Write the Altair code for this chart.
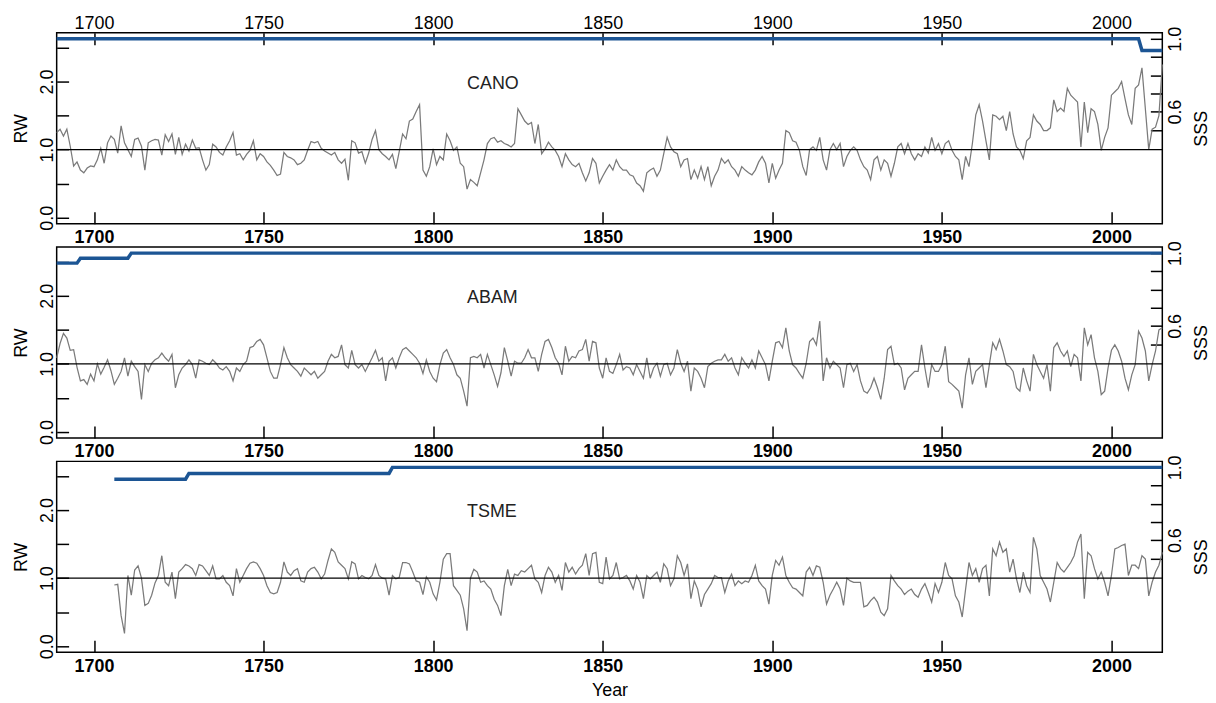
import altair as alt
import pandas as pd

FONT = "Liberation Sans"

# ---------------- data ----------------
cano_start = 1689
cano_rw = [
    1.25, 1.3, 1.2, 1.3, 1.05, 0.76, 0.82, 0.7, 0.66, 0.73,
    0.76, 0.75, 0.85, 1.02, 0.8, 1.1, 1.2, 1.15, 0.95, 1.35,
    1.1, 1.0, 0.9, 1.15, 1.17, 1.05, 0.7, 1.1, 1.13, 1.15,
    1.14, 0.92, 1.22, 1.12, 1.23, 0.93, 1.18, 0.93, 1.08, 0.98,
    1.14, 1.02, 1.03, 0.85, 0.7, 0.78, 1.08, 1.04, 0.96, 0.92,
    1.04, 1.13, 1.25, 0.92, 0.94, 0.85, 0.93, 0.99, 1.13, 0.85,
    0.94, 0.9, 0.82, 0.77, 0.7, 0.62, 0.64, 0.96, 0.9, 0.88,
    0.85, 0.78, 0.8, 0.85, 0.99, 1.12, 1.1, 1.12, 1.02, 0.98,
    0.95, 0.92, 0.96, 0.85, 0.8, 0.86, 0.55, 1.13, 1.1, 0.95,
    0.97, 0.8, 0.95, 1.15, 1.28, 1.0, 0.94, 0.9, 0.85, 0.93,
    0.72, 0.97, 1.23, 1.16, 1.42, 1.45, 1.56, 1.66, 0.7, 0.61,
    0.75, 1.01, 0.78, 0.9, 0.85, 1.23, 1.13, 0.99, 1.04, 0.8,
    0.75, 0.42, 0.56, 0.52, 0.47, 0.66, 0.85, 1.09, 1.16, 1.18,
    1.11, 1.13, 1.09, 1.07, 1.04, 1.09, 1.6, 1.51, 1.42, 1.37,
    1.4, 1.09, 1.37, 0.94, 1.01, 1.11, 1.04, 0.99, 0.9, 0.75,
    0.94, 0.85, 0.78, 0.75, 0.8, 0.66, 0.54, 0.66, 0.87, 0.8,
    0.51, 0.61, 0.7, 0.78, 0.7, 0.85, 0.75, 0.7, 0.7, 0.63,
    0.61, 0.51, 0.47, 0.39, 0.66, 0.7, 0.73, 0.61, 0.7, 0.94,
    1.18, 1.04, 0.97, 0.94, 0.75, 0.85, 0.87, 0.56, 0.7, 0.58,
    0.75, 0.56, 0.75, 0.47, 0.61, 0.7, 0.87, 0.8, 0.85, 0.75,
    0.7, 0.61, 0.75, 0.7, 0.66, 0.63, 0.7, 0.82, 0.9, 0.8,
    0.51, 0.8, 0.58, 0.7, 0.8, 1.28, 1.25, 1.13, 1.11, 0.99,
    0.75, 0.62, 1.0, 1.04, 0.99, 1.18, 0.85, 0.7, 1.0, 1.09,
    1.0, 1.09, 0.75, 0.9, 0.99, 1.04, 0.99, 0.85, 0.75, 0.7,
    0.56, 0.85, 0.9, 0.7, 0.85, 0.8, 0.61, 0.8, 1.04, 1.09,
    0.94, 1.09, 0.94, 0.85, 0.94, 0.9, 1.04, 0.95, 1.18, 0.99,
    1.09, 0.94, 1.09, 1.13, 0.99, 0.9, 0.85, 0.56, 0.9, 0.75,
    1.09, 1.51, 1.66, 1.42, 1.13, 0.85, 1.51, 1.49, 1.44, 1.49,
    1.28, 1.56, 1.23, 1.04, 0.99, 0.87, 1.13, 1.18, 1.51, 1.42,
    1.37, 1.28, 1.28, 1.32, 1.73, 1.56, 1.61, 1.56, 1.9, 1.8,
    1.75, 1.7, 1.04, 1.7, 1.25, 1.6, 1.56, 1.37, 0.99, 1.18,
    1.32, 1.8, 1.85, 1.9, 2.0, 1.75, 1.51, 1.37, 1.9, 1.95,
    2.2, 1.6, 1.0, 1.3, 1.33, 1.5, 2.25,
]

abam_start = 1689
abam_rw = [
    1.09, 1.3, 1.45, 1.38, 1.2, 1.21, 0.95, 0.75, 0.77, 0.7,
    0.85, 0.75, 1.0, 0.85, 0.95, 1.06, 0.9, 0.7, 0.79, 0.89,
    1.09, 0.82, 1.04, 0.96, 0.89, 0.48, 0.99, 0.89, 1.01, 1.06,
    1.09, 1.16, 1.09, 1.04, 1.14, 0.65, 0.84, 0.94, 0.99, 1.06,
    0.99, 0.79, 1.06, 1.04, 1.01, 0.99, 1.06, 1.01, 0.94, 0.91,
    0.96, 0.89, 0.75, 0.94, 0.89, 0.99, 1.04, 1.24, 1.26, 1.33,
    1.36, 1.28, 1.09, 0.89, 0.79, 0.79, 0.99, 1.24, 1.09, 0.99,
    0.94, 0.89, 0.82, 0.94, 0.89, 0.84, 0.89, 0.79, 0.84, 0.89,
    1.04, 1.14, 1.09, 1.11, 1.28, 0.99, 0.94, 1.2, 0.99, 0.94,
    0.99, 0.89, 0.99, 1.09, 1.2, 1.04, 1.09, 0.75, 1.04, 1.09,
    0.94, 1.09, 1.21, 1.24, 1.19, 1.14, 1.09, 1.01, 0.86, 1.06,
    0.89, 0.79, 0.74, 0.99, 1.16, 1.21, 1.09, 0.99, 0.84, 0.79,
    0.6, 0.38, 1.09, 1.11, 1.09, 1.14, 0.94, 1.14, 0.99, 0.84,
    0.67, 0.87, 1.24, 1.04, 0.82, 1.04, 1.01, 1.01, 1.09, 1.21,
    1.09, 1.09, 0.89, 1.14, 1.33, 1.36, 1.24, 1.09, 1.01, 0.84,
    1.26, 1.04, 1.11, 1.09, 1.19, 1.21, 1.36, 1.04, 1.33, 1.31,
    0.94, 0.79, 1.09, 0.89, 0.86, 0.99, 1.14, 0.91, 0.96, 0.94,
    0.84, 0.99, 0.89, 0.79, 1.09, 0.79, 0.94, 1.01, 0.82, 0.99,
    1.01, 0.84, 0.94, 1.21, 1.01, 0.89, 1.04, 0.6, 0.94, 0.89,
    0.79, 0.65, 0.96, 1.01, 1.04, 1.06, 1.06, 1.14, 1.04, 1.09,
    0.94, 0.84, 1.09, 1.01, 0.94, 1.06, 0.94, 1.19, 1.09, 0.99,
    0.75, 1.04, 1.31, 1.33, 1.24, 1.53, 1.19, 0.99, 0.94, 0.86,
    0.79, 1.01, 1.33, 1.38, 1.28, 1.63, 0.75, 1.09, 0.94, 1.04,
    0.99, 0.94, 0.65, 0.99, 1.01, 0.89, 0.99, 0.75, 0.6, 0.57,
    0.65, 0.79, 0.65, 0.48, 0.79, 1.21, 1.26, 0.99, 1.01, 0.94,
    0.62, 0.79, 0.84, 0.89, 0.89, 1.28, 0.94, 0.65, 0.99, 0.89,
    0.89, 0.99, 1.26, 0.74, 0.7, 0.65, 0.6, 0.35, 0.84, 1.09,
    0.7, 0.89, 0.94, 0.99, 0.65, 0.99, 1.31, 1.21, 1.36, 1.19,
    0.99, 0.96, 0.89, 0.65, 0.6, 0.94, 0.75, 0.6, 1.14, 0.99,
    0.89, 0.79, 0.99, 0.6, 1.24, 1.31, 1.19, 1.11, 1.19, 0.96,
    1.14, 1.09, 0.75, 1.53, 1.28, 1.43, 1.09, 0.89, 0.55, 0.6,
    0.94, 1.2, 1.28, 1.19, 1.04, 0.79, 0.62, 0.84, 0.99, 1.48,
    1.38, 1.19, 0.75, 0.99, 1.19, 1.5, 1.53,
]

tsme_start = 1706
tsme_rw = [
    0.9, 0.91, 0.45, 0.19, 1.04, 0.75, 1.12, 1.18, 1.0, 0.6,
    0.63, 0.75, 0.93, 1.04, 1.33, 0.94, 0.89, 1.09, 0.7, 1.09,
    1.14, 1.2, 1.18, 1.14, 1.04, 1.2, 1.18, 1.11, 1.04, 1.18,
    0.99, 0.99, 1.04, 0.94, 0.89, 0.74, 1.14, 0.94, 1.04, 1.14,
    1.22, 1.24, 1.22, 1.14, 1.04, 0.89, 0.79, 0.77, 0.79, 0.94,
    1.24, 1.09, 1.04, 1.11, 1.14, 0.96, 0.94, 1.09, 1.14, 1.16,
    1.09, 0.99, 1.06, 1.26, 1.43, 1.38, 1.24, 1.19, 1.14, 0.99,
    1.24, 1.21, 0.99, 1.04, 1.01, 0.99, 1.04, 1.2, 1.04, 1.0,
    0.99, 0.75, 1.04, 0.99, 1.01, 1.23, 1.23, 1.21, 1.09, 0.96,
    0.94, 0.76, 1.02, 0.94, 0.77, 0.68, 0.94, 1.28, 1.36, 1.36,
    0.89, 0.82, 0.75, 0.55, 0.23, 1.0, 1.13, 1.09, 0.94, 0.96,
    0.89, 0.84, 0.69, 0.6, 0.45, 0.89, 1.13, 0.89, 1.06, 1.04,
    1.11, 1.09, 1.14, 1.19, 0.99, 0.94, 0.79, 1.04, 1.16, 1.09,
    0.94, 1.04, 0.82, 1.23, 1.09, 1.16, 1.06, 1.14, 1.19, 1.36,
    1.04, 1.36, 1.38, 0.94, 0.92, 1.31, 0.99, 1.04, 1.23, 0.99,
    1.01, 1.04, 0.96, 0.84, 1.04, 0.94, 0.7, 1.04, 0.99, 1.04,
    1.09, 0.94, 1.21, 1.14, 0.89, 0.99, 1.33, 1.23, 1.04, 1.21,
    0.7, 0.96, 0.84, 0.58, 0.76, 0.84, 0.92, 1.04, 1.01, 1.01,
    0.79, 0.96, 1.06, 0.89, 0.96, 0.92, 0.96, 0.94, 1.04, 1.19,
    0.96, 0.89, 0.84, 0.62, 1.04, 1.26, 1.19, 1.31, 1.04, 0.94,
    0.86, 0.84, 0.79, 0.74, 1.09, 1.16, 1.04, 1.18, 1.16, 0.94,
    0.62, 0.75, 0.84, 0.94, 0.84, 0.6, 1.0, 0.96, 0.94, 0.94,
    0.94, 0.58, 0.6, 0.67, 0.72, 0.65, 0.5, 0.45, 0.55, 1.04,
    0.96, 0.89, 0.84, 0.76, 0.81, 0.84, 0.76, 0.72, 0.84, 0.92,
    0.79, 0.65, 0.92, 0.79, 0.94, 1.23, 1.04, 0.99, 0.74, 0.65,
    0.43, 0.84, 1.23, 1.04, 1.14, 0.94, 1.14, 1.19, 0.74, 1.43,
    1.33, 1.53, 1.38, 1.43, 1.09, 1.28, 0.99, 0.79, 1.09, 0.89,
    0.79, 1.6, 1.43, 1.04, 0.94, 0.84, 0.65, 0.94, 1.23, 1.14,
    1.09, 1.16, 1.23, 1.33, 1.53, 1.65, 0.7, 1.38, 1.33, 1.14,
    0.99, 1.09, 0.94, 0.74, 1.04, 1.43, 1.45, 1.48, 1.5, 1.04,
    1.19, 1.19, 1.14, 1.33, 1.28, 0.74, 0.94, 1.09, 1.19, 1.38,
]

cano_sss_years = [1689, 2008, 2009, 2015]
cano_sss = [1.0, 1.0, 0.936, 0.936]
abam_sss_years = [1689, 1695, 1696, 1710, 1711, 2015]
abam_sss = [0.945, 0.945, 0.972, 0.972, 1.0, 1.0]
tsme_sss_years = [1706, 1727, 1728, 1787, 1788, 2015]
tsme_sss = [0.935, 0.935, 0.967, 0.967, 1.0, 1.0]

x_ticks = [1700, 1750, 1800, 1850, 1900, 1950, 2000]
rw_ticks = [0.0, 0.5, 1.0, 1.5, 2.0, 2.5]
sss_ticks = [0.5, 0.6, 0.7, 0.8, 0.9, 1.0]

# ---------------- chart ----------------
X_DOMAIN = [1689, 2015]
W, H = 1112, 192
RW_DOMAIN = [-0.088, 2.715]
SSS_DOMAIN = [-0.016, 1.033]
TICK = 12
LBL = 18


def xscale():
    return alt.Scale(domain=X_DOMAIN, nice=False, zero=False)


def rwscale():
    return alt.Scale(domain=RW_DOMAIN, nice=False, zero=False)


def panel(name, start, rw, sss_years, sss, top_axis, year_title):
    df = pd.DataFrame({"year": list(range(start, start + len(rw))), "rw": rw})
    sdf = pd.DataFrame({"year": sss_years, "sss": sss})

    bottom_kw = dict(
        values=x_ticks, orient="bottom", offset=-TICK, tickSize=TICK,
        domain=False, grid=False, labelFontWeight="bold", labelFontSize=LBL,
        labelPadding=5, labelColor="black", tickColor="black", tickWidth=1.5,
        format="d",
    )
    if year_title:
        bottom_kw.update(title="Year", titleFontSize=LBL, titleFontWeight="normal",
                         titleColor="black", titleX=W / 2, titleY=TICK + 38,
                         titleAlign="center", titleBaseline="middle")
    else:
        bottom_kw.update(title="")

    rw_line = alt.Chart(df).mark_line(color="#7a7a7a", strokeWidth=1.25).encode(
        x=alt.X("year:Q", scale=xscale(), axis=alt.Axis(**bottom_kw)),
        y=alt.Y("rw:Q", scale=rwscale(), axis=alt.Axis(
            values=rw_ticks, orient="left", offset=-TICK, tickSize=TICK,
            domain=False, grid=False, labelAngle=270, labelAlign="center",
            labelBaseline="bottom", labelFontSize=LBL, labelPadding=0,
            labelColor="black", tickColor="black", tickWidth=1.5,
            labelExpr="datum.value % 1 == 0 ? format(datum.value, '.1f') : ''",
            title="RW", titleFontSize=LBL, titleFontWeight="normal",
            titleColor="black", titleAngle=270, titleX=-(TICK + 35.5), titleY=H / 2,
            titleAlign="center", titleBaseline="middle",
        )),
    )
    ref = alt.Chart(pd.DataFrame({"rw": [1.0]})).mark_rule(
        color="black", strokeWidth=1.3
    ).encode(y=alt.Y("rw:Q", scale=rwscale(), axis=None))
    label = alt.Chart(pd.DataFrame({"year": [1810], "rw": [1.97], "name": [name]})).mark_text(
        align="left", baseline="middle", fontSize=LBL, font=FONT, color="#222222"
    ).encode(
        x=alt.X("year:Q", scale=xscale(), axis=None),
        y=alt.Y("rw:Q", scale=rwscale(), axis=None),
        text="name:N",
    )

    if top_axis:
        top = alt.Axis(values=x_ticks, orient="top", offset=-TICK, tickSize=TICK,
                       domain=False, grid=False, labelFontSize=LBL, labelPadding=0,
                       labelColor="black", tickColor="black", tickWidth=1.5,
                       format="d", title="")
    else:
        top = None
    sss_line = alt.Chart(sdf).mark_line(color="#1c5594", strokeWidth=3.5).encode(
        x=alt.X("year:Q", scale=xscale(), axis=top),
        y=alt.Y("sss:Q", scale=alt.Scale(domain=SSS_DOMAIN, nice=False, zero=False),
                axis=alt.Axis(
                    values=sss_ticks, orient="right", offset=-TICK, tickSize=TICK,
                    domain=False, grid=False, labelAngle=270, labelAlign="center",
                    labelBaseline="top", labelFontSize=LBL, labelPadding=4,
                    labelColor="black", tickColor="black", tickWidth=1.5,
                    labelExpr="(abs(datum.value - 1.0) < 0.001 || abs(datum.value - 0.6) < 0.001) ? format(datum.value, '.1f') : ''",
                    title="SSS", titleFontSize=LBL, titleFontWeight="normal",
                    titleColor="black", titleAngle=270, titleX=TICK + 39, titleY=H / 2,
                    titleAlign="center", titleBaseline="middle",
                )),
    )
    return (
        alt.layer(rw_line, ref, label, sss_line)
        .resolve_scale(y="independent")
        .resolve_axis(x="independent", y="independent")
        .properties(width=W, height=H)
    )


p1 = panel("CANO", cano_start, cano_rw, cano_sss_years, cano_sss, True, False)
p2 = panel("ABAM", abam_start, abam_rw, abam_sss_years, abam_sss, False, False)
p3 = panel("TSME", tsme_start, tsme_rw, tsme_sss_years, tsme_sss, False, True)

chart = (
    alt.vconcat(p1, p2, p3, spacing=23.5, bounds="flush")
    .resolve_axis(x="independent", y="independent")
    .configure(font=FONT, background="white",
               padding={"left": 11, "top": 12, "right": 5, "bottom": 5})
    .configure_view(stroke="black", strokeWidth=1.5)
)

chart.save("out.html", embed_options={"renderer": "svg", "actions": False})
